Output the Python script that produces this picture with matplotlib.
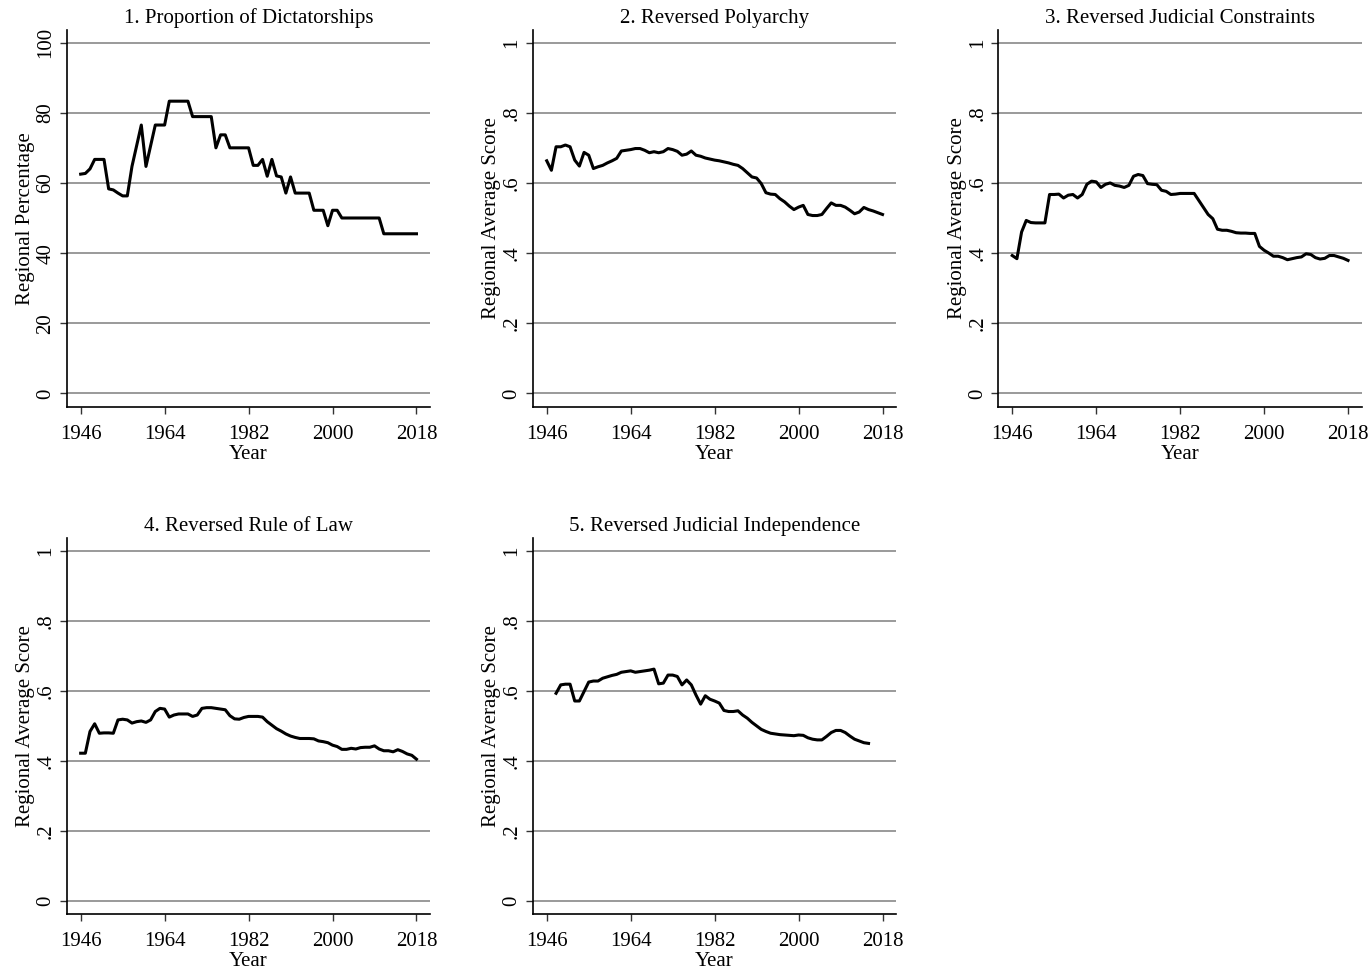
import numpy as np
import matplotlib
matplotlib.use("Agg")
import matplotlib.pyplot as plt
from matplotlib import rc

# Stata風のセリフ体
rc('font', family=['Liberation Serif', 'DejaVu Serif'])

# 年
years = list(range(1946, 2019))
years_jud_ind = list(range(1948, 2016))

# 1. 独裁国家の割合 (%)
dictatorships = [
    62.5, 62.7, 64.0, 66.7, 66.7, 66.7, 58.3, 58.0, 57.1, 56.3,
    56.3, 64.7, 70.6, 76.5, 64.7, 70.6, 76.5, 76.5, 76.5, 83.3,
    83.3, 83.3, 83.3, 83.3, 78.9, 78.9, 78.9, 78.9, 78.9, 70.0,
    73.7, 73.7, 70.0, 70.0, 70.0, 70.0, 70.0, 65.0, 65.0, 66.7,
    61.9, 66.7, 62.0, 61.7, 57.1, 61.7, 57.1, 57.1, 57.1, 57.1,
    52.2, 52.2, 52.2, 47.8, 52.2, 52.2, 50.0, 50.0, 50.0, 50.0,
    50.0, 50.0, 50.0, 50.0, 50.0, 45.5, 45.5, 45.5, 45.5, 45.5,
    45.5, 45.5, 45.5,
]

# 2. Reversed Polyarchy
polyarchy = [
    .663, .636, .703, .703, .708, .703, .665, .648, .687, .679,
    .641, .646, .650, .657, .663, .670, .691, .693, .695, .698,
    .698, .693, .686, .689, .686, .689, .698, .695, .690, .679,
    .682, .691, .679, .676, .671, .668, .665, .663, .660, .657,
    .653, .650, .641, .629, .617, .614, .598, .572, .568, .567,
    .555, .546, .534, .524, .531, .536, .510, .507, .507, .510,
    .527, .543, .536, .536, .531, .522, .512, .517, .530, .524,
    .520, .515, .510,
]

# 3. Reversed Judicial Constraints
jud_constraints = [
    .393, .384, .460, .493, .487, .486, .486, .486, .567, .567,
    .568, .557, .565, .567, .557, .567, .596, .605, .603, .587,
    .596, .600, .593, .591, .587, .593, .619, .624, .621, .598,
    .596, .595, .579, .576, .567, .568, .570, .570, .570, .570,
    .550, .530, .510, .498, .468, .465, .465, .462, .458, .457,
    .457, .456, .456, .419, .408, .400, .391, .391, .387, .381,
    .384, .387, .389, .398, .396, .387, .383, .385, .393, .393,
    .389, .385, .379,
]

# 4. Reversed Rule of Law
rule_of_law = [
    .422, .422, .484, .506, .479, .480, .480, .479, .517, .519,
    .517, .508, .512, .514, .510, .517, .541, .550, .548, .525,
    .531, .534, .534, .534, .527, .531, .550, .552, .552, .550,
    .548, .546, .529, .520, .519, .524, .527, .527, .527, .525,
    .512, .502, .492, .485, .477, .471, .467, .464, .464, .464,
    .463, .457, .455, .452, .445, .441, .433, .433, .436, .434,
    .438, .439, .439, .443, .434, .429, .429, .426, .432, .427,
    .420, .416, .405,
]

# 5. Reversed Judicial Independence (1948-2015)
jud_independence = [
    .593, .617, .619, .619, .571, .571, .598, .625, .628, .628,
    .636, .640, .644, .647, .653, .655, .657, .653, .655, .657,
    .659, .662, .620, .622, .645, .645, .641, .617, .631, .617,
    .588, .562, .586, .576, .571, .565, .544, .541, .541, .543,
    .531, .522, .510, .500, .490, .484, .479, .477, .475, .474,
    .473, .472, .474, .473, .466, .462, .460, .460, .470, .481,
    .487, .487, .481, .471, .462, .457, .452, .450,
]

titles = ["1. Proportion of Dictatorships", "2. Reversed Polyarchy",
          "3. Reversed Judicial Constraints", "4. Reversed Rule of Law",
          "5. Reversed Judicial Independence"]
x_ticks = [1946, 1964, 1982, 2000, 2018]
pct_ticks = [0, 20, 40, 60, 80, 100]
pct_labels = ["0", "20", "40", "60", "80", "100"]
score_ticks = [0, .2, .4, .6, .8, 1]
score_labels = ["0", ".2", ".4", ".6", ".8", "1"]

FS = 15

# パネルの位置 (left, bottom, width, height)
W = 0.2648
lefts = [0.0486, 0.3883, 0.7276]
row1 = (0.582, 0.3872)
row2 = (0.0606, 0.3864)
positions = [
    (lefts[0], row1[0], W, row1[1]),
    (lefts[1], row1[0], W, row1[1]),
    (lefts[2], row1[0], W, row1[1]),
    (lefts[0], row2[0], W, row2[1]),
    (lefts[1], row2[0], W, row2[1]),
]

panels = [
    (years, dictatorships, "Regional Percentage", pct_ticks, pct_labels, (-3.8, 103.6)),
    (years, polyarchy, "Regional Average Score", score_ticks, score_labels, (-0.038, 1.036)),
    (years, jud_constraints, "Regional Average Score", score_ticks, score_labels, (-0.038, 1.036)),
    (years, rule_of_law, "Regional Average Score", score_ticks, score_labels, (-0.037, 1.036)),
    (years_jud_ind, jud_independence, "Regional Average Score", score_ticks, score_labels, (-0.037, 1.036)),
]

fig = plt.figure(figsize=(13.72, 9.73), dpi=100)

for pos, title, (xs, ys, ylab, yt, ytl, ylim) in zip(positions, titles, panels):
    ax = fig.add_axes(pos)
    # グリッド線
    for v in yt:
        ax.axhline(v, color="#9a9a9a", lw=1.4, zorder=1)
    ax.plot(xs, ys, color="black", lw=2.2, zorder=3)
    ax.set_xlim(1943.0, 2020.9)
    ax.set_ylim(*ylim)
    ax.set_xticks(x_ticks)
    ax.set_yticks(yt)
    ax.set_yticklabels(ytl, rotation=90, va="center")
    ax.spines["top"].set_visible(False)
    ax.spines["right"].set_visible(False)
    ax.spines["left"].set_linewidth(1.2)
    ax.spines["bottom"].set_linewidth(1.2)
    ax.tick_params(axis="both", direction="out", length=5, width=1.0,
                   labelsize=FS, color="#333333")
    ax.tick_params(axis="x", pad=8)
    ax.tick_params(axis="y", pad=3)
    ax.set_xlabel("Year", fontsize=FS, labelpad=1)
    ax.set_ylabel(ylab, fontsize=FS, labelpad=1)
    ax.set_title(title, fontsize=FS, pad=5)

fig.savefig("out.png", dpi=100, facecolor="white")
